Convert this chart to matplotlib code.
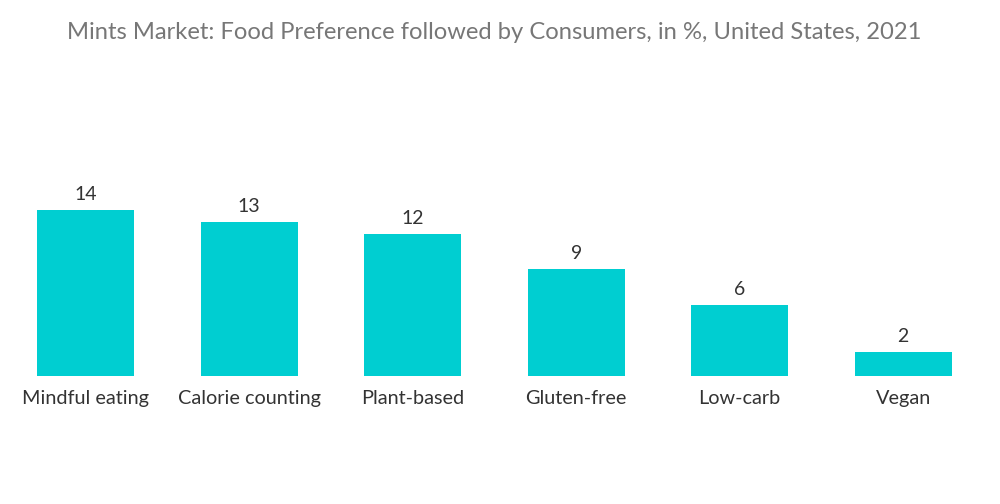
import matplotlib
matplotlib.use("Agg")
import matplotlib.pyplot as plt

categories = ["Mindful eating", "Calorie counting", "Plant-based", "Gluten-free", "Low-carb", "Vegan"]
values = [14, 13, 12, 9, 6, 2]

TITLE = "Mints Market: Food Preference followed by Consumers, in %, United States, 2021"

plt.rcParams["font.family"] = ["Lato", "DejaVu Sans"]

fig = plt.figure(figsize=(10, 5.04), dpi=100)
ax = fig.add_axes([0.004, 0.254, 0.981, 0.4706])

x = range(len(categories))
bars = ax.bar(x, values, width=0.594, color="#00CED1")
for b, v in zip(bars, values):
    ax.text(b.get_x() + b.get_width() / 2, v + 0.6, f"{v}",
            ha="center", va="bottom", fontsize=14, color="#333333")

ax.set_xlim(-0.5, len(categories) - 0.5)
ax.set_ylim(0, 20)
ax.set_xticks(list(x))
ax.set_xticklabels(categories, fontsize=14.3, color="#333333")
ax.tick_params(axis="x", length=0, pad=10)
ax.set_yticks([])
for s in ax.spines.values():
    s.set_visible(False)

fig.text(0.494, 0.935, TITLE, ha="center", va="center", fontsize=17.1, color="#777777")

fig.savefig("out.png", dpi=100)
